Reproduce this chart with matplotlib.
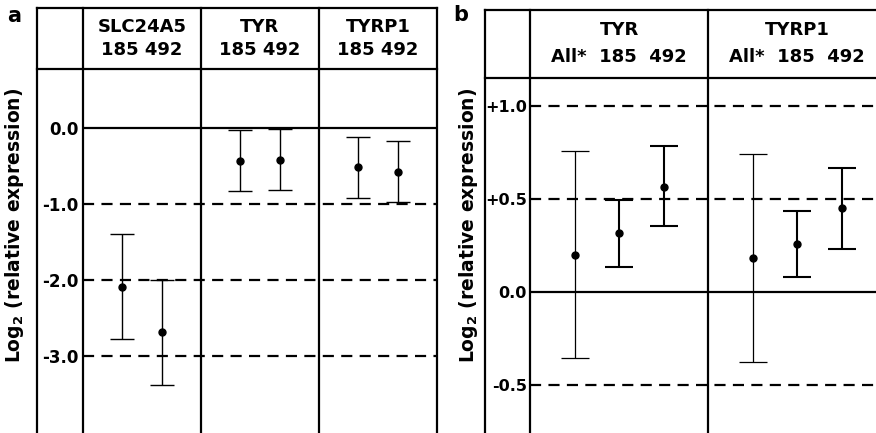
import numpy as np
import matplotlib
matplotlib.use("Agg")
import matplotlib.pyplot as plt

# panel a: SLC24A5 / TYR / TYRP1, groups 185 and 492
genes_a = ["SLC24A5", "TYR", "TYRP1"]
groups_a = ["185", "492"]
mean_a_185 = [-2.09, -0.43, -0.51]
low_a_185 = [-2.78, -0.83, -0.92]
high_a_185 = [-1.39, -0.03, -0.12]
mean_a_492 = [-2.68, -0.42, -0.575]
low_a_492 = [-3.38, -0.81, -0.97]
high_a_492 = [-2.0, -0.01, -0.175]
ticks_a = [0.0, -1.0, -2.0, -3.0]
ticklabels_a = ["0.0", "-1.0", "-2.0", "-3.0"]

# panel b: TYR / TYRP1, groups All*, 185, 492
genes_b = ["TYR", "TYRP1"]
groups_b = ["All*", "185", "492"]
mean_b_all = [0.20, 0.18]
low_b_all = [-0.357, -0.376]
high_b_all = [0.757, 0.739]
mean_b_185 = [0.314, 0.255]
low_b_185 = [0.134, 0.077]
high_b_185 = [0.493, 0.434]
mean_b_492 = [0.565, 0.449]
low_b_492 = [0.352, 0.231]
high_b_492 = [0.784, 0.664]
ticks_b = [1.0, 0.5, 0.0, -0.5]
ticklabels_b = ["+1.0", "+0.5", "0.0", "-0.5"]

W, H = 876, 433
FS = 13
LW = 1.6
DASH = (0, (5, 3.3))

plt.rcParams['font.family'] = ['DejaVu Sans']
plt.rcParams['font.weight'] = 'bold'

fig = plt.figure(figsize=(W / 100, H / 100), dpi=100)


def px_axes(x0, y0, x1, y1):
    """axes from pixel box (top-left origin)."""
    return fig.add_axes([x0 / W, 1 - y1 / H, (x1 - x0) / W, (y1 - y0) / H])


def draw_table(ax, ncols, box, top_px, left_px):
    x0, y0, x1, y1 = box
    h = y1 - y0
    w = x1 - x0
    ytop = (y1 - top_px) / h
    xleft = (left_px - x0) / w
    ax.set_xlim(0, ncols)
    for s in ax.spines.values():
        s.set_visible(False)
    # vertical lines: columns + label column
    for c in range(ncols + 1):
        ax.axvline(c, ymin=0, ymax=ytop, color="k", lw=LW, clip_on=False)
    ax.plot([xleft, xleft], [0, ytop], transform=ax.transAxes, color="k",
            lw=LW, clip_on=False)
    # header lines
    ax.plot([xleft, 1], [ytop, ytop], transform=ax.transAxes, color="k",
            lw=LW, clip_on=False, solid_capstyle="projecting")
    ax.plot([xleft, 1], [1, 1], transform=ax.transAxes, color="k",
            lw=LW, clip_on=False)
    ax.set_xticks([])
    return h


def hlines(ax, ticks):
    for t in ticks:
        if t == 0:
            ax.axhline(t, color="k", lw=LW, zorder=1)
        else:
            ax.axhline(t, color="k", lw=LW, ls=DASH, zorder=1)


# ---------------- panel a ----------------
box_a = (83, 69, 437, 433)
ax_a = px_axes(*box_a)
h_a = draw_table(ax_a, len(genes_a), box_a, 8, 37)
ax_a.set_ylim(-4.01, 0.776)
hlines(ax_a, ticks_a)
ax_a.set_yticks(ticks_a)
ax_a.set_yticklabels(ticklabels_a, fontsize=12, fontweight="bold")
ax_a.tick_params(axis="y", length=0, pad=3.5)

cols = np.arange(len(genes_a))
m185 = np.array(mean_a_185)
m492 = np.array(mean_a_492)
ax_a.errorbar(cols + 0.33, m185,
              yerr=[m185 - np.array(low_a_185), np.array(high_a_185) - m185],
              fmt="o", color="k", ms=5, lw=1.0, capsize=8.5, capthick=1.0, zorder=3)
ax_a.errorbar(cols + 0.67, m492,
              yerr=[m492 - np.array(low_a_492), np.array(high_a_492) - m492],
              fmt="o", color="k", ms=5, lw=1.0, capsize=8.5, capthick=1.0, zorder=3)

tr = ax_a.get_xaxis_transform()
for i, g in enumerate(genes_a):
    ax_a.text(i + 0.5, (433 - 27) / h_a, g, transform=tr, ha="center",
              va="center", fontsize=FS, fontweight="bold")
    ax_a.text(i + 0.5, (433 - 50) / h_a, " ".join(groups_a), transform=tr,
              ha="center", va="center", fontsize=FS, fontweight="bold")

# ---------------- panel b ----------------
box_b = (530, 77.7, 886, 433)
ax_b = px_axes(*box_b)
h_b = draw_table(ax_b, len(genes_b), box_b, 10, 485)
ax_b.set_ylim(-0.76, 1.152)
hlines(ax_b, ticks_b)
ax_b.set_yticks(ticks_b)
ax_b.set_yticklabels(ticklabels_b, fontsize=11.5, fontweight="bold")
ax_b.tick_params(axis="y", length=0, pad=2.4)

cols = np.arange(len(genes_b))
series_b = [
    (mean_b_all, low_b_all, high_b_all, 0.25, 0.9),
    (mean_b_185, low_b_185, high_b_185, 0.5, 1.5),
    (mean_b_492, low_b_492, high_b_492, 0.75, 1.5),
]
for mean, low, high, off, lw in series_b:
    m = np.array(mean)
    ax_b.errorbar(cols + off, m,
                  yerr=[m - np.array(low), np.array(high) - m],
                  fmt="o", color="k", ms=5, lw=lw, capsize=10, capthick=lw,
                  zorder=3)

tr = ax_b.get_xaxis_transform()
for i, g in enumerate(genes_b):
    ax_b.text(i + 0.5, (433 - 30) / h_b, g, transform=tr, ha="center",
              va="center", fontsize=FS, fontweight="bold")
    ax_b.text(i + 0.5, (433 - 57.5) / h_b, "  ".join(groups_b), transform=tr,
              ha="center", va="center", fontsize=FS, fontweight="bold")

# y labels and panel letters
ylab = r"Log$_{\mathbf{2}}$ (relative expression)"
fig.text(15 / W, 1 - 225 / H, ylab, rotation=90, ha="center", va="center",
         fontsize=13.5, fontweight="bold")
fig.text(468 / W, 1 - 225 / H, ylab, rotation=90, ha="center", va="center",
         fontsize=13.5, fontweight="bold")
fig.text(14 / W, 1 - 16 / H, "a", ha="center", va="center", fontsize=15,
         fontweight="bold")
fig.text(461 / W, 1 - 15 / H, "b", ha="center", va="center", fontsize=15,
         fontweight="bold")

fig.savefig("out.png", dpi=100)
